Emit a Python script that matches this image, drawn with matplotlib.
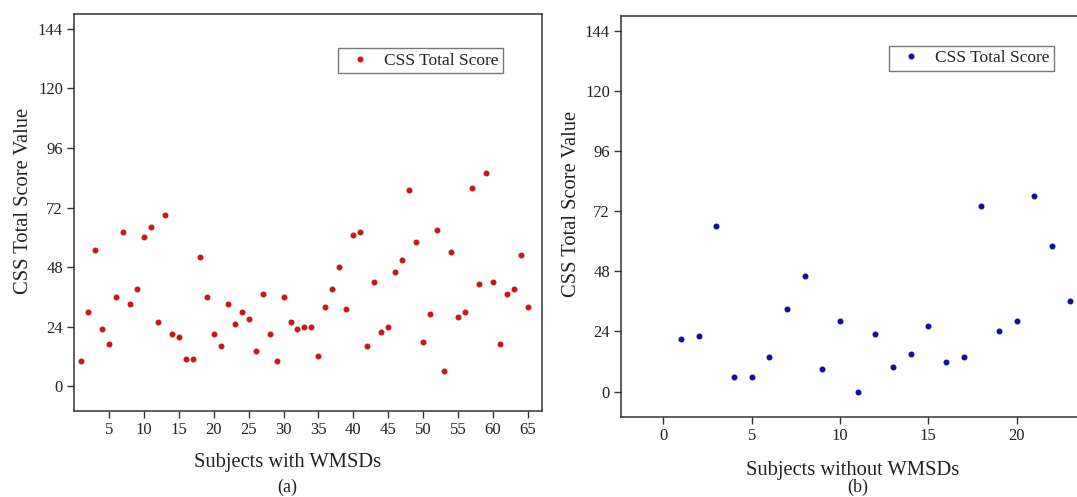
import numpy as np
from matplotlib import pyplot as plt

# ----------------------------------------------------------------------
#  CSS total score per subject
with_wmsds = [10, 30, 55, 23, 17, 36, 62, 33, 39, 60,
              64, 26, 69, 21, 20, 11, 11, 52, 36, 21,
              16, 33, 25, 30, 27, 14, 37, 21, 10, 36,
              26, 23, 24, 24, 12, 32, 39, 48, 31, 61,
              62, 16, 42, 22, 24, 46, 51, 79, 58, 18,
              29, 63, 6, 54, 28, 30, 80, 41, 86, 42,
              17, 37, 39, 53, 32]
without_wmsds = [21, 22, 66, 6, 6, 14, 33, 46, 9, 28,
                 0, 23, 10, 15, 26, 12, 14, 74, 24, 28,
                 78, 58, 36]

x_a = np.arange(1, len(with_wmsds) + 1)
x_b = np.arange(1, len(without_wmsds) + 1)

y_ticks = [0, 24, 48, 72, 96, 120, 144]
x_ticks_a = [5, 10, 15, 20, 25, 30, 35, 40, 45, 50, 55, 60, 65]
x_ticks_b = [0, 5, 10, 15, 20]

plt.rcParams['font.family'] = ['Liberation Serif', 'DejaVu Serif']
plt.rcParams['text.color'] = '#222222'
plt.rcParams['axes.labelcolor'] = '#222222'
plt.rcParams['xtick.color'] = '#333333'
plt.rcParams['ytick.color'] = '#333333'
plt.rcParams['xtick.labelcolor'] = '#222222'
plt.rcParams['ytick.labelcolor'] = '#222222'

fig = plt.figure(figsize=(10.77, 4.97), dpi=100)
ax1 = fig.add_axes([0.0687, 0.173, 0.4345, 0.799])
ax2 = fig.add_axes([0.5766, 0.1616, 0.4345, 0.807])


def style(ax, xt, xlabel, lx, lxy, ly, leg_anchor):
    for s in ax.spines.values():
        s.set_linewidth(1.1)
        s.set_color('#333333')
    ax.set_ylim(-10, 150)
    ax.set_yticks(y_ticks)
    ax.set_xticks(xt)
    ax.tick_params(direction='out', length=5, width=1.0, labelsize=12, pad=3)
    ax.set_ylabel('CSS Total Score Value', fontsize=14.8)
    ax.set_xlabel(xlabel, fontsize=14.8)
    ax.xaxis.set_label_coords(lx, lxy)
    ax.yaxis.set_label_coords(ly, 0.53)
    leg = ax.legend(loc='upper left', bbox_to_anchor=leg_anchor, borderaxespad=0,
                    fontsize=12.5, fancybox=False, numpoints=1, handlelength=2.0,
                    handletextpad=0.4, borderpad=0.25, framealpha=1)
    leg.get_frame().set_edgecolor('#777777')
    leg.get_frame().set_linewidth(1.0)


ax1.plot(x_a, with_wmsds, 'o', color='#c41a1a', markersize=3.3, label='CSS Total Score')
ax1.set_xlim(0, 67)
style(ax1, x_ticks_a, 'Subjects with WMSDs', 0.457, -0.105, -0.087, (0.564, 0.9136))

ax2.plot(x_b, without_wmsds, 'o', color='#10109a', markersize=3.3, label='CSS Total Score')
ax2.set_xlim(-2.4, 24.1)
style(ax2, x_ticks_b, 'Subjects without WMSDs', 0.496, -0.11, -0.086, (0.5726, 0.9244))

fig.text(287 / 1077, 1 - 487 / 497, '(a)', fontsize=13, ha='center', va='center')
fig.text(858 / 1077, 1 - 487 / 497, '(b)', fontsize=13, ha='center', va='center')

plt.savefig('out.png', dpi=100)
